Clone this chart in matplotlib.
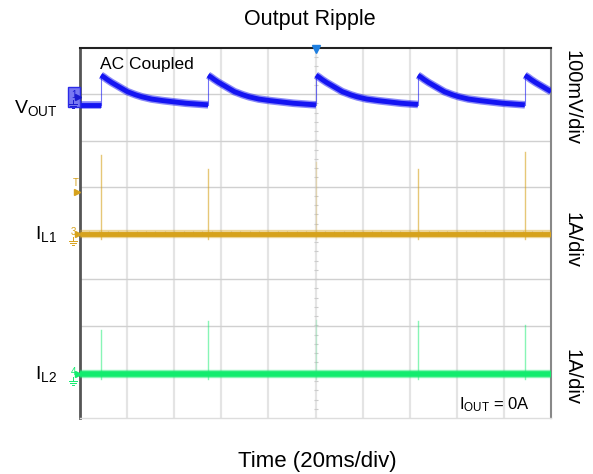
import numpy as np
import matplotlib
matplotlib.use("Agg")
import matplotlib.pyplot as plt
from matplotlib.patches import Rectangle

plt.rcParams['font.family'] = ['Liberation Sans', 'DejaVu Sans']
plt.rcParams['mathtext.fontset'] = 'custom'
plt.rcParams['mathtext.rm'] = 'Liberation Sans'
plt.rcParams['mathtext.it'] = 'Liberation Sans'

# ---- data ----
time_span_ms = 200.0          # 10 div x 20 ms
event_times_ms = [8.9, 54.4, 100.2, 143.5, 188.9]   # switching bursts

# Vout ripple (AC coupled), mV relative to channel reference, per burst cycle
ripple_t_ms = [0, 1, 2, 3, 4, 6, 8, 11, 14, 17, 21, 25, 30, 35, 40, 46]
ripple_mv = [47, 44, 40, 36.5, 33, 27, 21, 12, 6, 1, -4, -7, -10, -13, -15, -17]
vout_base_mv = -17

# inductor current spikes (A) at each burst
il1_spike_a = [1.70, 1.40, 1.55, 1.40, 1.77]
il1_spike_alpha = [0.6, 0.6, 0.25, 0.6, 0.6]
il2_spike_a = [0.95, 1.15, 1.17, 1.15, 1.06]
il2_spike_alpha = [0.5, 0.5, 0.2, 0.5, 0.5]

# channel scales / offsets (div)
vout_mv_per_div = 100.0
vout_offset_div = 2.94
il1_offset_div = -0.02
il2_offset_div = -3.05
trig_level_div = 0.93
il_a_per_div = 1.0

C_V = '#1414F2'
C_L1 = '#D6A21C'
C_L2 = '#12EC6E'

fig = plt.figure(figsize=(5.93, 4.74), dpi=100)
ax = fig.add_axes([80/593, 1-418/474, 471/593, 370/474])
ax.set_xlim(0, time_span_ms)
ax.set_ylim(-4, 4)
PX_X = time_span_ms/471.0
PX_Y = 8.0/370.0

# grid
for k in range(1, 10):
    ax.axvline(k*20, color='#E4E4E4', lw=1.6, zorder=0)
for k in range(-3, 4):
    ax.axhline(k, color='#D0D0D0', lw=1.0, zorder=0)
# center cross ticks
tk = np.arange(-4, 4.01, 0.2)
ax.plot(np.full_like(tk, 100), tk, ls='none', marker='_', ms=3.5, mew=0.8, color='#CCCCCC', zorder=0)
tx = np.arange(0, 200.1, 4)
ax.plot(tx, np.zeros_like(tx), ls='none', marker='|', ms=3.5, mew=0.8, color='#CCCCCC', zorder=0)

def mv2div(v):
    return vout_offset_div + np.asarray(v)/vout_mv_per_div

# Vout
segs_start = [0.0] + event_times_ms
segs_end = event_times_ms + [time_span_ms]
for i, (s, e) in enumerate(zip(segs_start, segs_end)):
    t = np.linspace(s, e, 300)
    if i == 0:
        v = np.full_like(t, vout_base_mv, dtype=float)
    else:
        v = np.interp(t - s, ripple_t_ms, ripple_mv, right=vout_base_mv)
    ax.plot(t, mv2div(v), color=C_V, lw=5.5, alpha=0.5, solid_capstyle='butt', zorder=3)
    ax.plot(t, mv2div(v), color=C_V, lw=3.5, solid_capstyle='butt', zorder=3)
for te in event_times_ms:
    ax.plot([te, te], mv2div([vout_base_mv, ripple_mv[0]]), color=C_V, lw=0.8, alpha=0.6, zorder=3)

# IL1
for te, a, al in zip(event_times_ms, il1_spike_a, il1_spike_alpha):
    ax.plot([te, te], [il1_offset_div - 0.1, il1_offset_div + a/il_a_per_div], color=C_L1, lw=1.0, alpha=al, zorder=2)
ax.plot([0, time_span_ms], [il1_offset_div]*2, color=C_L1, lw=6, alpha=0.45, solid_capstyle='butt', zorder=3)
ax.plot([0, time_span_ms], [il1_offset_div]*2, color=C_L1, lw=3.5, solid_capstyle='butt', zorder=3)

# IL2
for te, a, al in zip(event_times_ms, il2_spike_a, il2_spike_alpha):
    ax.plot([te, te], [il2_offset_div - 0.1, il2_offset_div + a/il_a_per_div], color=C_L2, lw=1.0, alpha=al, zorder=2)
ax.plot([0, time_span_ms], [il2_offset_div]*2, color=C_L2, lw=6, alpha=0.5, solid_capstyle='butt', zorder=3)
ax.plot([0, time_span_ms], [il2_offset_div]*2, color=C_L2, lw=4, solid_capstyle='butt', zorder=3)

# spines
ax.set_xticks([]); ax.set_yticks([])
ax.spines['left'].set_color('#555555'); ax.spines['left'].set_linewidth(2)
ax.spines['top'].set_color('#222222'); ax.spines['top'].set_linewidth(1.5)
ax.spines['right'].set_color('#888888'); ax.spines['right'].set_linewidth(1.5)
ax.spines['bottom'].set_color('#DDDDDD'); ax.spines['bottom'].set_linewidth(1)

# channel markers on left edge
def ch_marker(y, label, color, boxed=False):
    if boxed:
        ax.add_patch(Rectangle((-12*PX_X, y - 10*PX_Y), 12*PX_X, 20*PX_Y, fc='#7878F2',
                               ec='#2A2AE8', lw=1, clip_on=False, zorder=5))
    ax.text(-6.5*PX_X, y + 2*PX_Y, label, color=color, fontsize=7, ha='center', va='center',
            clip_on=False, zorder=6)
    ax.plot([-2*PX_X], [y], marker='>', ms=5, color=color, clip_on=False, zorder=6)
    # ground symbol
    gx = -7*PX_X
    for j, w in enumerate([4, 2.6, 1.2]):
        yy = y - (7 + 2*j)*PX_Y
        ax.plot([gx - w*PX_X, gx + w*PX_X], [yy, yy], color=color, lw=0.7, clip_on=False, zorder=6)
    ax.plot([gx, gx], [y - 7*PX_Y, y - 3*PX_Y], color=color, lw=0.7, clip_on=False, zorder=6)

ch_marker(vout_offset_div, '1', '#1a1ad0', boxed=True)
ch_marker(il1_offset_div, '3', C_L1)
ch_marker(il2_offset_div, '4', C_L2)
ax.text(-4*PX_X, trig_level_div + 7*PX_Y, 'T', color=C_L1, fontsize=7, ha='center', va='center', clip_on=False)
ax.plot([-3*PX_X], [trig_level_div - 2*PX_Y], marker='>', ms=5, color=C_L1, clip_on=False, zorder=6)
ax.plot([100], [3.97], marker='v', ms=6, color='#1E7FE0', clip_on=False, zorder=6)

# texts
fig.text(310/593, 1-20/474, 'Output Ripple', fontsize=15.5, ha='center', va='center')
fig.text(317/593, 1-461/474, 'Time (20ms/div)', fontsize=16, ha='center', va='center')
ax.text(0.043, 0.955, 'AC Coupled', transform=ax.transAxes, fontsize=12.5, ha='left', va='center')
ax.text(0.955, 0.035, r'I$_{\mathrm{OUT}}$ = 0A', transform=ax.transAxes, fontsize=12, ha='right', va='center')
fig.text(58/593, 1-108/474, r'V$_{\mathrm{OUT}}$', fontsize=14, ha='right', va='center')
fig.text(57/593, 1-234/474, r'I$_{\mathrm{L1}}$', fontsize=14, ha='right', va='center')
fig.text(57/593, 1-374/474, r'I$_{\mathrm{L2}}$', fontsize=14, ha='right', va='center')
fig.text(572/593, 1-97/474, '100mV/div', fontsize=14.5, rotation=-90, ha='center', va='center')
fig.text(572/593, 1-240/474, '1A/div', fontsize=14.5, rotation=-90, ha='center', va='center')
fig.text(572/593, 1-377/474, '1A/div', fontsize=14.5, rotation=-90, ha='center', va='center')

fig.savefig('out.png', dpi=100)
